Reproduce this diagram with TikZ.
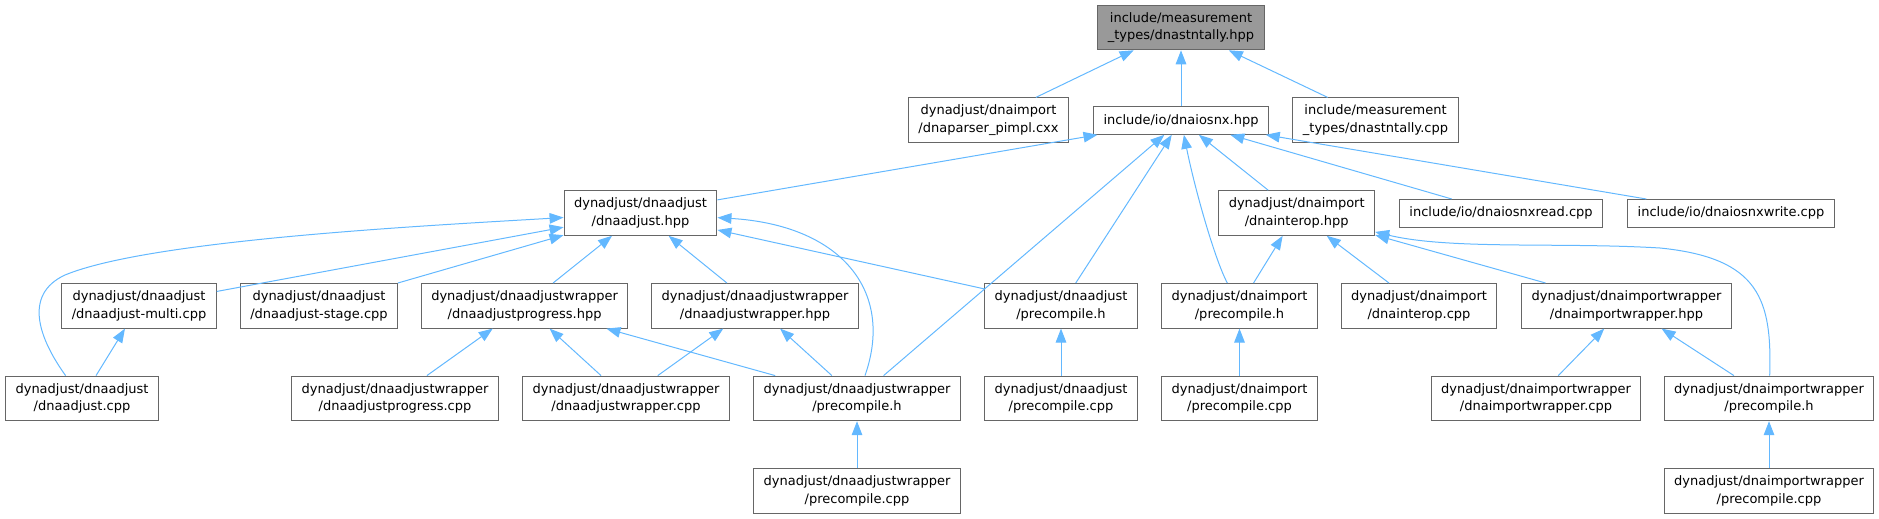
\documentclass[tikz,border=0pt]{standalone}
\usepackage{fontspec}
\setmainfont{DejaVu Sans}
\usepackage{tikz}
\usetikzlibrary{arrows.meta}
\definecolor{bleuLien}{RGB}{99,184,255}
\definecolor{grisBord}{RGB}{102,102,102}
\definecolor{grisRacine}{RGB}{153,153,153}

\begin{document}
\begin{tikzpicture}[x=0.5pt, y=-0.5pt, font=\fontsize{6.5}{8.65}\selectfont,
  fichier/.style={draw=grisBord, fill=white, line width=0.5pt, align=center,
                  inner xsep=5pt, inner ysep=1pt, minimum height=22.3pt},
  uneligne/.style={fichier, minimum height=13.8pt},
  racine/.style={fichier, fill=grisRacine},
  lien/.style={bleuLien, line width=0.5pt, -{Triangle[length=7pt,width=5.3pt]}}]

\useasboundingbox (0,0) rectangle (1879,519);

% rang 0 et 1
\node[racine] (racine) at (1181,27.5) {include/measurement\\\_types/dnastntally.hpp};
\node[fichier] (pimpl) at (988.5,120.2) {dynadjust/dnaimport\\/dnaparser\_pimpl.cxx};
\node[uneligne] (dnaiosnx) at (1181,120.5) {include/io/dnaiosnx.hpp};
\node[fichier] (stntallycpp) at (1375.5,120.2) {include/measurement\\\_types/dnastntally.cpp};

% rang 2
\node[fichier] (adjusthpp) at (640.5,213) {dynadjust/dnaadjust\\/dnaadjust.hpp};
\node[fichier] (interophpp) at (1296.7,213) {dynadjust/dnaimport\\/dnainterop.hpp};
\node[uneligne] (snxread) at (1501,213.3) {include/io/dnaiosnxread.cpp};
\node[uneligne] (snxwrite) at (1731,213.3) {include/io/dnaiosnxwrite.cpp};

% rang 3
\node[fichier] (multicpp) at (139,305.8) {dynadjust/dnaadjust\\/dnaadjust-multi.cpp};
\node[fichier] (stagecpp) at (319,305.8) {dynadjust/dnaadjust\\/dnaadjust-stage.cpp};
\node[fichier] (progresshpp) at (524.6,305.8) {dynadjust/dnaadjustwrapper\\/dnaadjustprogress.hpp};
\node[fichier] (wrapperhpp) at (755,305.8) {dynadjust/dnaadjustwrapper\\/dnaadjustwrapper.hpp};
\node[fichier] (adjpch) at (1061,305.8) {dynadjust/dnaadjust\\/precompile.h};
\node[fichier] (imppch) at (1239.5,305.8) {dynadjust/dnaimport\\/precompile.h};
\node[fichier] (interopcpp) at (1419,305.8) {dynadjust/dnaimport\\/dnainterop.cpp};
\node[fichier] (impwraphpp) at (1626.5,305.8) {dynadjust/dnaimportwrapper\\/dnaimportwrapper.hpp};

% rang 4
\node[fichier] (adjustcpp) at (82,398.4) {dynadjust/dnaadjust\\/dnaadjust.cpp};
\node[fichier] (progresscpp) at (395,398.4) {dynadjust/dnaadjustwrapper\\/dnaadjustprogress.cpp};
\node[fichier] (wrappercpp) at (626,398.4) {dynadjust/dnaadjustwrapper\\/dnaadjustwrapper.cpp};
\node[fichier] (wrappch) at (857,398.4) {dynadjust/dnaadjustwrapper\\/precompile.h};
\node[fichier] (adjpchcpp) at (1061,398.4) {dynadjust/dnaadjust\\/precompile.cpp};
\node[fichier] (imppchcpp) at (1239.5,398.4) {dynadjust/dnaimport\\/precompile.cpp};
\node[fichier] (impwrapcpp) at (1536,398.4) {dynadjust/dnaimportwrapper\\/dnaimportwrapper.cpp};
\node[fichier] (impwrappch) at (1769,398.4) {dynadjust/dnaimportwrapper\\/precompile.h};

% rang 5
\node[fichier] (wrappchcpp) at (857,490.8) {dynadjust/dnaadjustwrapper\\/precompile.cpp};
\node[fichier] (impwrappchcpp) at (1769,490.8) {dynadjust/dnaimportwrapper\\/precompile.cpp};

% liens
\draw[lien] (pimpl) -- (racine);
\draw[lien] (dnaiosnx) -- (racine);
\draw[lien] (stntallycpp) -- (racine);

\draw[lien] (adjusthpp) -- (dnaiosnx);
\draw[lien] (wrappch) -- (dnaiosnx);
\draw[lien] (adjpch) -- (dnaiosnx);
\draw[lien] (imppch) .. controls (1215,260) and (1195,190) .. (dnaiosnx);
\draw[lien] (interophpp) -- (dnaiosnx);
\draw[lien] (snxread) -- (dnaiosnx);
\draw[lien] (snxwrite) -- (dnaiosnx);

\draw[lien] (adjustcpp) .. controls (40,340) and (22,295) .. (65,275)
                        .. controls (150,240) and (420,226) .. (adjusthpp);
\draw[lien] (multicpp) -- (adjusthpp);
\draw[lien] (stagecpp) -- (adjusthpp);
\draw[lien] (progresshpp) -- (adjusthpp);
\draw[lien] (wrapperhpp) -- (adjusthpp);
\draw[lien] (adjpch) -- (adjusthpp);
\draw[lien] (wrappch) .. controls (895,290) and (840,225) .. (adjusthpp);

\draw[lien] (imppch) -- (interophpp);
\draw[lien] (interopcpp) -- (interophpp);
\draw[lien] (impwraphpp) -- (interophpp);
\draw[lien] (impwrappch) .. controls (1772,300) and (1760,258) .. (1660,248)
                         .. controls (1560,242) and (1450,250) .. (interophpp);

\draw[lien] (adjustcpp) -- (multicpp);
\draw[lien] (progresscpp) -- (progresshpp);
\draw[lien] (wrappercpp) -- (progresshpp);
\draw[lien] (wrappch) -- (progresshpp);
\draw[lien] (wrappercpp) -- (wrapperhpp);
\draw[lien] (wrappch) -- (wrapperhpp);
\draw[lien] (wrappchcpp) -- (wrappch);

\draw[lien] (adjpchcpp) -- (adjpch);
\draw[lien] (imppchcpp) -- (imppch);
\draw[lien] (impwrapcpp) -- (impwraphpp);
\draw[lien] (impwrappch) -- (impwraphpp);
\draw[lien] (impwrappchcpp) -- (impwrappch);

\end{tikzpicture}
\end{document}
